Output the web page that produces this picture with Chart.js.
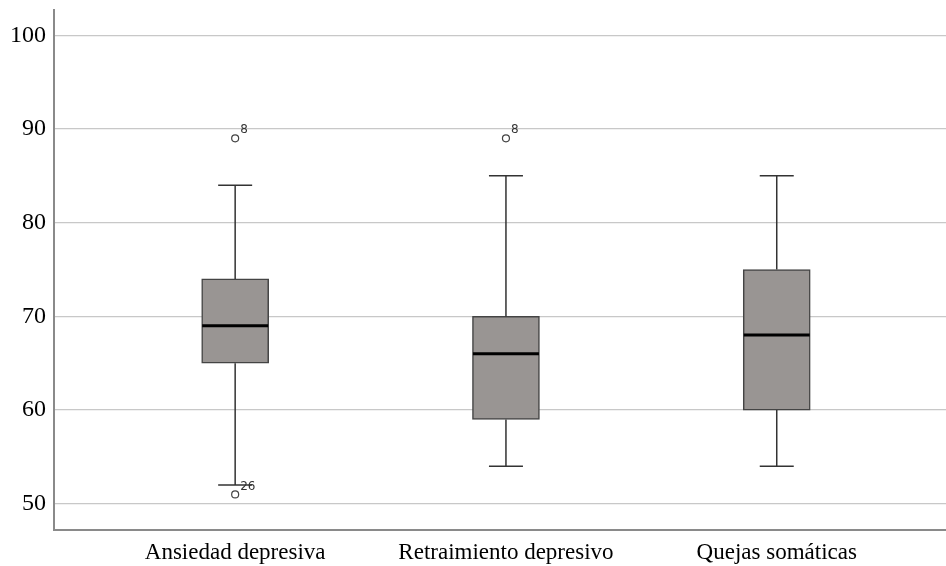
<!DOCTYPE html>
<html>
<head>
<meta charset="utf-8">
<script src="https://cdn.jsdelivr.net/npm/chart.js@4"></script>
<style>
  html, body { margin: 0; padding: 0; background: #fff; overflow: hidden; }
  #wrap { width: 946px; height: 566px; overflow: hidden; }
</style>
</head>
<body>
<div id="wrap"><canvas id="boxChart" width="952" height="566"></canvas></div>
<script>
// boxplot values
const categories = ['Ansiedad depresiva', 'Retraimiento depresivo', 'Quejas somáticas'];
const whiskerLow = [52, 54, 54];
const q1 = [65, 59, 60];
const median = [69, 66, 68];
const q3 = [74, 70, 75];
const whiskerHigh = [84, 85, 85];
const outlierCat = [0, 0, 1];
const outlierVal = [89, 51, 89];
const outlierLabel = ['8', '26', '8'];
const yTicks = [50, 60, 70, 80, 90, 100];

const ctx = document.getElementById('boxChart').getContext('2d');

const boxParts = {
    id: 'boxParts',
    afterDatasetsDraw(chart) {
        const c = chart.ctx;
        const x = chart.scales.x, y = chart.scales.y;
        c.save();
        categories.forEach((cat, i) => {
            const cx = x.getPixelForValue(i + 1);
            const half = 17;
            c.strokeStyle = '#333';
            c.lineWidth = 1.5;
            c.beginPath();
            c.moveTo(cx, y.getPixelForValue(q3[i]));
            c.lineTo(cx, y.getPixelForValue(whiskerHigh[i]));
            c.moveTo(cx - half, y.getPixelForValue(whiskerHigh[i]));
            c.lineTo(cx + half, y.getPixelForValue(whiskerHigh[i]));
            c.moveTo(cx, y.getPixelForValue(q1[i]));
            c.lineTo(cx, y.getPixelForValue(whiskerLow[i]));
            c.moveTo(cx - half, y.getPixelForValue(whiskerLow[i]));
            c.lineTo(cx + half, y.getPixelForValue(whiskerLow[i]));
            c.stroke();
            // median
            c.strokeStyle = '#000';
            c.lineWidth = 3;
            c.beginPath();
            c.moveTo(cx - 33, y.getPixelForValue(median[i]));
            c.lineTo(cx + 33, y.getPixelForValue(median[i]));
            c.stroke();
        });
        c.fillStyle = '#333';
        c.font = '12px "DejaVu Sans", sans-serif';
        c.textAlign = 'left';
        c.textBaseline = 'bottom';
        outlierVal.forEach((v, k) => {
            const px = x.getPixelForValue(outlierCat[k] + 1);
            const py = y.getPixelForValue(v);
            c.fillText(outlierLabel[k], px + 5, py - 2);
        });
        c.restore();
    }
};

new Chart(ctx, {
    type: 'bar',
    data: {
        datasets: [{
            type: 'bar',
            data: categories.map((c, i) => ({ x: i + 1, y: [q1[i], q3[i]] })),
            backgroundColor: '#999593',
            borderColor: '#444',
            borderWidth: 1.5,
            borderSkipped: false,
            barThickness: 67
        }, {
            type: 'scatter',
            data: outlierVal.map((v, k) => ({ x: outlierCat[k] + 1, y: v })),
            pointRadius: 3.5,
            pointBackgroundColor: '#fff',
            pointBorderColor: '#444',
            pointBorderWidth: 1.2
        }]
    },
    options: {
        responsive: false,
        animation: false,
        layout: { padding: { top: 10, right: 0, left: 0, bottom: 0 } },
        plugins: { legend: { display: false }, tooltip: { enabled: false } },
        scales: {
            x: {
                type: 'linear',
                offset: false,
                min: 0.331,
                max: 3.628,
                afterBuildTicks: ax => { ax.ticks = [1, 2, 3].map(v => ({ value: v })); },
                afterFit: ax => { ax.height = 36; ax.paddingLeft = 0; ax.paddingRight = 0; },
                grid: { display: false },
                border: { display: true, color: '#8a8a8a', width: 2 },
                ticks: {
                    padding: 1,
                    color: '#000',
                    font: { family: '"Liberation Serif", serif', size: 23 },
                    callback: v => categories[v - 1],
                    maxRotation: 0,
                    autoSkip: false
                }
            },
            y: {
                min: 47.2,
                max: 102.7,
                afterBuildTicks: ax => { ax.ticks = yTicks.map(v => ({ value: v })); },
                afterFit: ax => { ax.width = 54; ax.paddingTop = 0; ax.paddingBottom = 0; },
                grid: { color: '#c8c8c8', lineWidth: 1.2, drawTicks: false },
                border: { display: true, color: '#8a8a8a', width: 2 },
                ticks: {
                    padding: 8,
                    color: '#000',
                    font: { family: '"Liberation Serif", serif', size: 24 }
                }
            }
        }
    },
    plugins: [boxParts]
});
</script>
</body>
</html>
